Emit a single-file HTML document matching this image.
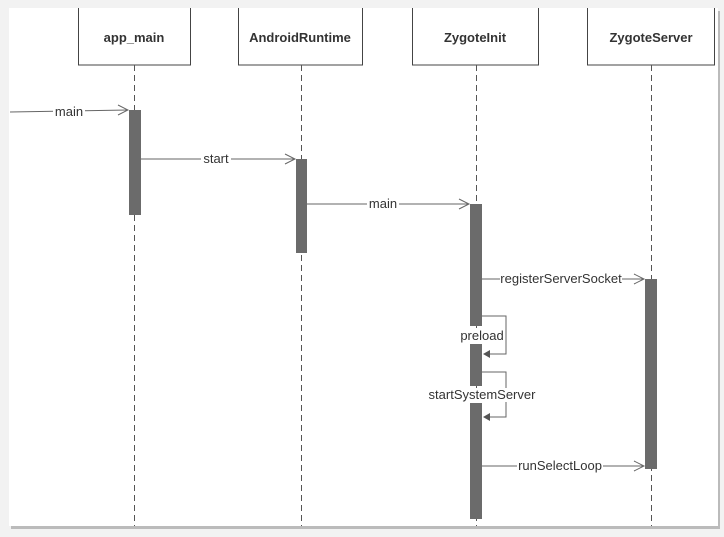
<!DOCTYPE html>
<html><head><style>
body{margin:0;background:#f3f3f3;}
svg{display:block}
text{font-family:"Liberation Sans","DejaVu Sans",sans-serif;fill:#333}
</style></head><body>
<svg width="724" height="537" viewBox="0 0 724 537">
<rect x="0" y="0" width="724" height="537" fill="#f2f2f2"/>
<rect x="11" y="11" width="709" height="518" fill="#bbb"/>
<rect x="9" y="8" width="709" height="518" fill="#fff"/>
<g stroke="#444" fill="none" stroke-width="1">
<rect x="78.5" y="5" width="112" height="60" fill="#fff"/>
<rect x="238.5" y="5" width="124" height="60" fill="#fff"/>
<rect x="412.5" y="5" width="126" height="60" fill="#fff"/>
<rect x="587.5" y="5" width="127" height="60" fill="#fff"/>
<g stroke-dasharray="6,4" stroke="#555">
<line x1="134.5" y1="65" x2="134.5" y2="526"/>
<line x1="301.5" y1="65" x2="301.5" y2="526"/>
<line x1="476.5" y1="65" x2="476.5" y2="526"/>
<line x1="651.5" y1="65" x2="651.5" y2="526"/>
</g>
</g>
<g fill="#6b6b6b">
<rect x="129" y="110" width="12" height="105"/>
<rect x="296" y="159" width="11" height="94"/>
<rect x="470" y="204" width="12" height="122"/>
<rect x="470" y="344" width="12" height="42"/>
<rect x="470" y="403" width="12" height="116"/>
<rect x="645" y="279" width="12" height="190"/>
</g>
<rect x="0" y="0" width="724" height="8" fill="#f2f2f2"/>
<g stroke="#666" fill="none" stroke-width="1">
<line x1="10" y1="112" x2="128" y2="110"/><polyline points="118,105 128,110 118,115"/>
<line x1="141" y1="159" x2="295" y2="159"/><polyline points="285,154 295,159 285,164"/>
<line x1="307" y1="204" x2="469" y2="204"/><polyline points="459,199 469,204 459,209"/>
<line x1="482" y1="279" x2="644" y2="279"/><polyline points="634,274 644,279 634,284"/>
<line x1="482" y1="466" x2="644" y2="466"/><polyline points="634,461 644,466 634,471"/>
<polyline points="482,316 506,316 506,354 484,354"/>
<polyline points="482,372 506,372 506,417 484,417"/>
</g>
<polygon points="483,354 490,350 490,358" fill="#555"/>
<polygon points="483,417 490,413 490,421" fill="#555"/>
<g font-size="13" text-anchor="middle">
<rect x="53" y="104" width="32" height="14" fill="#fff"/><text x="69" y="116">main</text>
<rect x="201" y="151" width="30" height="14" fill="#fff"/><text x="216" y="163">start</text>
<rect x="367" y="196" width="32" height="14" fill="#fff"/><text x="383" y="208">main</text>
<rect x="500" y="271" width="122" height="14" fill="#fff"/><text x="561" y="283">registerServerSocket</text>
<rect x="517" y="458" width="86" height="14" fill="#fff"/><text x="560" y="470">runSelectLoop</text>
<rect x="459" y="328" width="46" height="14" fill="#fff"/><text x="482" y="340">preload</text>
<rect x="428" y="388" width="108" height="14" fill="#fff"/><text x="482" y="399">startSystemServer</text>
<g font-weight="bold" font-size="13"><text x="134" y="42">app_main</text><text x="300" y="42">AndroidRuntime</text><text x="475" y="42">ZygoteInit</text><text x="651" y="42">ZygoteServer</text></g>
</g>
</svg>
</body></html>
